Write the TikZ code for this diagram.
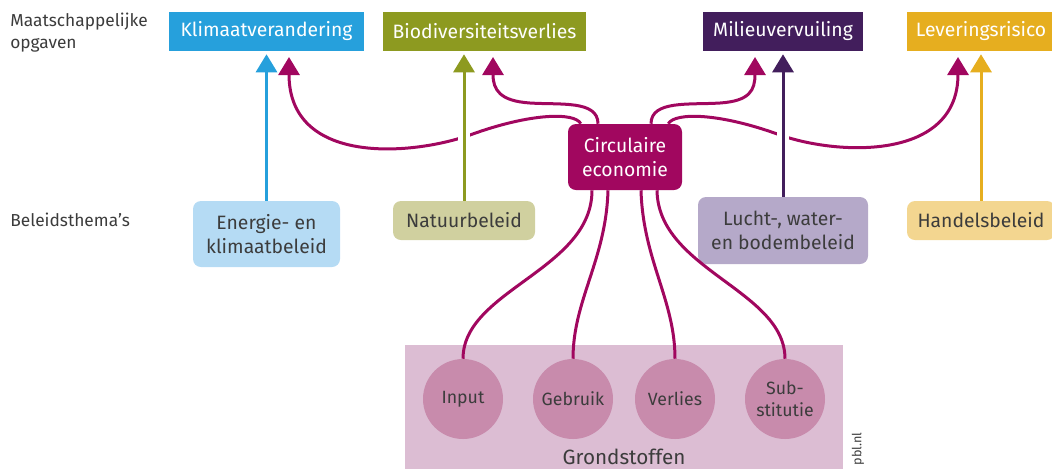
\documentclass[tikz,border=0pt]{standalone}
\usepackage{fontspec}
\setmainfont{Fira Sans}
\usetikzlibrary{arrows.meta}

\definecolor{klimaatblue}{HTML}{26A0DC}
\definecolor{biodivolive}{HTML}{8D9A20}
\definecolor{milieupurple}{HTML}{421E5C}
\definecolor{leveringgold}{HTML}{E6AE1F}
\definecolor{energieblue}{HTML}{B5DBF4}
\definecolor{natuurkhaki}{HTML}{D0D09F}
\definecolor{luchtlavender}{HTML}{B5A9C9}
\definecolor{handelsgold}{HTML}{F3D690}
\definecolor{circmagenta}{HTML}{A1075F}
\definecolor{grondpink}{HTML}{DCBDD3}
\definecolor{stofpink}{HTML}{C88BAC}
\definecolor{textgray}{HTML}{3C3C3C}

\begin{document}
\begin{tikzpicture}
    [
    x=0.75pt,y=-0.75pt,
    opgave/.style={rectangle,inner sep=0pt,minimum height=29.25pt,text=white,font=\fontsize{14.5}{16}\selectfont},
    thema/.style={rectangle,rounded corners=6pt,inner sep=0pt,align=center,text=textgray,font=\fontsize{14.5}{18.5}\selectfont},
    stof/.style={circle,fill=stofpink,inner sep=0pt,minimum size=60pt,align=center,text=textgray,font=\fontsize{13.3}{16}\selectfont},
    kop/.style={anchor=west,align=left,inner sep=0pt,text=textgray,font=\fontsize{13}{16.5}\selectfont},
    link/.style={circmagenta,line width=2.25pt},
    pijl/.style={line width=2.25pt,-{Triangle[width=15.75pt,length=13.5pt]},shorten >=2.25pt},
    beleid/.style={pijl,preaction={draw=white,line width=9pt,-}}
    ]
    \useasboundingbox (0,0) rectangle (1052,469);
    % koppen links
    \node (kop1) at (10,33) [kop] {Maatschappelijke\\opgaven};
    \node (kop2) at (10,220) [kop] {Beleidsthema’s};
    % maatschappelijke opgaven
    \node (klimaat) at (266.5,31.5) [opgave,fill=klimaatblue,minimum width=146.25pt] {Klimaatverandering};
    \node (biodiv) at (484.5,31.5) [opgave,fill=biodivolive,minimum width=152.25pt] {Biodiversiteitsverlies};
    \node (milieu) at (783,31.5) [opgave,fill=milieupurple,minimum width=120pt] {Milieuvervuiling};
    \node (levering) at (981,31.5) [opgave,fill=leveringgold,minimum width=111pt] {Leveringsrisico};
    % beleidsthema's
    \node (energie) at (266.5,234) [thema,fill=energieblue,minimum width=110.25pt,minimum height=49.5pt] {Energie- en\\klimaatbeleid};
    \node (natuur) at (464,220.5) [thema,fill=natuurkhaki,minimum width=106.5pt,minimum height=29.25pt] {Natuurbeleid};
    \node (lucht) at (783,230.5) [thema,fill=luchtlavender,minimum width=127.5pt,minimum height=50.25pt] {Lucht-, water-\\en bodembeleid};
    \node (handels) at (981,220.5) [thema,fill=handelsgold,minimum width=111pt,minimum height=29.25pt] {Handelsbeleid};
    % grondstoffen
    \node (grond) at (624,407) [rectangle,fill=grondpink,inner sep=0pt,minimum width=328.5pt,minimum height=93pt] {};
    \node (input) at (463,399) [stof] {Input};
    \node (gebruik) at (573,399) [stof] {Gebruik};
    \node (verlies) at (675,399) [stof] {Verlies};
    \node (subst) at (785,399) [stof] {Sub-\\stitutie};
    \node (grondlabel) at (624,457) [text=textgray,font=\fontsize{15.5}{17}\selectfont] {Grondstoffen};
    \node (bron) at (858,449) [rotate=90,text=textgray,font=\fontsize{9.5}{11}\selectfont] {pbl.nl};
    % circulaire economie
    \node (circ) at (625,157) [thema,fill=circmagenta,text=white,minimum width=85.5pt,minimum height=49.5pt] {Circulaire\\economie};
    \coordinate (klimaat2) at (289,54);
    \coordinate (biodiv2) at (493,54);
    \coordinate (milieu2) at (755,54);
    \coordinate (levering2) at (958,54);
    % verbindingen circulaire economie
    \draw [link,pijl] (circ.north west) ++(13,0) .. controls (575,112) and (530,113) .. (470,135)
        .. controls (410,156) and (289,165) .. (klimaat2);
    \draw [link,pijl] (circ.north) ++(-27,0) .. controls (598,100) and (560,105) .. (530,103)
        .. controls (500,101) and (493,90) .. (biodiv2);
    \draw [link,pijl] (circ.north) ++(26,0) .. controls (651,100) and (690,105) .. (720,103)
        .. controls (750,101) and (755,90) .. (milieu2);
    \draw [link,pijl] (circ.north east) ++(-14,0) .. controls (675,112) and (720,113) .. (780,135)
        .. controls (840,156) and (958,160) .. (levering2);
    \draw [link] (circ.south) ++(-33,0) .. controls (592,270) and (463,290) .. (input.north);
    \draw [link] (circ.south) ++(-17,0) .. controls (606,260) and (573,300) .. (gebruik.north);
    \draw [link] (circ.south) ++(16,0) .. controls (643,260) and (675,300) .. (verlies.north);
    \draw [link] (circ.south) ++(32,0) .. controls (658,270) and (785,290) .. (subst.north);
    % beleid naar opgaven
    \draw [beleid,klimaatblue] (energie.north) to (energie.north |- klimaat.south);
    \draw [beleid,biodivolive] (natuur.north) to (natuur.north |- biodiv.south);
    \draw [beleid,milieupurple] (lucht.north) to (lucht.north |- milieu.south);
    \draw [beleid,leveringgold] (handels.north) to (handels.north |- levering.south);
\end{tikzpicture}
\end{document}
